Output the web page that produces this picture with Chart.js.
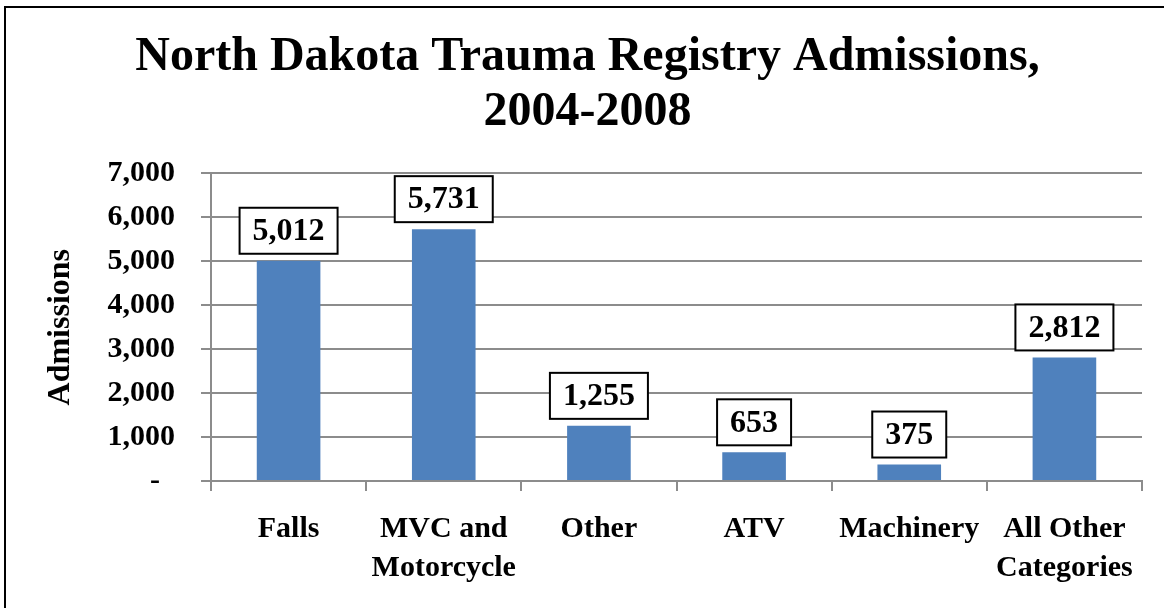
<!DOCTYPE html>
<html>
<head>
<meta charset="utf-8">
<script src="https://cdn.jsdelivr.net/npm/chart.js@4"></script>
<style>
  html, body { margin: 0; padding: 0; background: #fff; overflow: hidden; }
  #wrap { position: relative; width: 1164px; height: 608px; }
  #frame { position: absolute; left: 4px; top: 6px; width: 1400px; height: 900px;
           border: 2px solid #000; pointer-events: none; }
</style>
</head>
<body>
<div id="wrap">
  <canvas id="myChart" width="1164" height="608"></canvas>
  <div id="frame"></div>
</div>
<script>
const categories = ['Falls', ['MVC and', 'Motorcycle'], 'Other', 'ATV', 'Machinery', ['All Other', 'Categories']];
const admissions = [5012, 5731, 1255, 653, 375, 2812];
const yTicks = [0, 1000, 2000, 3000, 4000, 5000, 6000, 7000];

const serif = 'Liberation Serif, Times New Roman, serif';

// boxed value labels above each bar
const boxLabels = {
  id: 'boxLabels',
  afterDatasetsDraw(chart) {
    const ctx = chart.ctx;
    const meta = chart.getDatasetMeta(0);
    ctx.save();
    ctx.font = 'bold 32px ' + serif;
    ctx.textAlign = 'center';
    ctx.textBaseline = 'middle';
    meta.data.forEach((bar, i) => {
      const text = admissions[i].toLocaleString('en-US');
      const w = ctx.measureText(text).width + 26;
      const h = 46;
      const x = bar.x - w / 2;
      const y = bar.y - 7 - h;
      ctx.fillStyle = '#fff';
      ctx.fillRect(x, y, w, h);
      ctx.lineWidth = 2;
      ctx.strokeStyle = '#000';
      ctx.strokeRect(x, y, w, h);
      ctx.fillStyle = '#000';
      ctx.fillText(text, bar.x, y + h / 2 + 1);
    });
    ctx.restore();
  }
};

new Chart(document.getElementById('myChart'), {
  type: 'bar',
  data: {
    labels: categories,
    datasets: [{
      label: 'Admissions',
      data: admissions,
      backgroundColor: '#4F81BD',
      borderWidth: 0,
      categoryPercentage: 1,
      barPercentage: 0.41
    }]
  },
  options: {
    responsive: false,
    animation: false,
    layout: { padding: { left: 33, right: 22, top: 0, bottom: 0 } },
    plugins: {
      legend: { display: false },
      tooltip: { enabled: false },
      title: {
        display: true,
        text: ['North Dakota Trauma Registry Admissions,', '2004-2008'],
        color: '#000',
        font: { family: serif, size: 48, weight: 'bold', lineHeight: 1.15 },
        padding: { top: 30, bottom: 33 }
      }
    },
    scales: {
      x: {
        afterFit(scale) { scale.height = 127; },
        grid: { drawOnChartArea: false, color: '#8c8c8c', lineWidth: 2, tickLength: 10, offset: true },
        border: { color: '#8c8c8c', width: 2 },
        ticks: {
          color: '#000',
          padding: 19,
          maxRotation: 0,
          autoSkip: false,
          font: { family: serif, size: 30, weight: 'bold', lineHeight: 1.3 }
        }
      },
      y: {
        min: 0,
        max: 7000,
        afterFit(scale) { scale.width = 178; },
        afterBuildTicks(scale) { scale.ticks = yTicks.map(v => ({ value: v })); },
        grid: { color: '#8c8c8c', lineWidth: 2, tickLength: 10 },
        border: { color: '#8c8c8c', width: 2 },
        title: {
          display: true,
          text: 'Admissions',
          color: '#000',
          font: { family: serif, size: 32, weight: 'bold' },
          padding: { top: 9, bottom: 0 }
        },
        ticks: {
          color: '#000',
          padding: 26,
          font: { family: serif, size: 30, weight: 'bold' },
          callback: v => v === 0 ? '-  ' : v.toLocaleString('en-US')
        }
      }
    }
  },
  plugins: [boxLabels]
});
</script>
</body>
</html>
